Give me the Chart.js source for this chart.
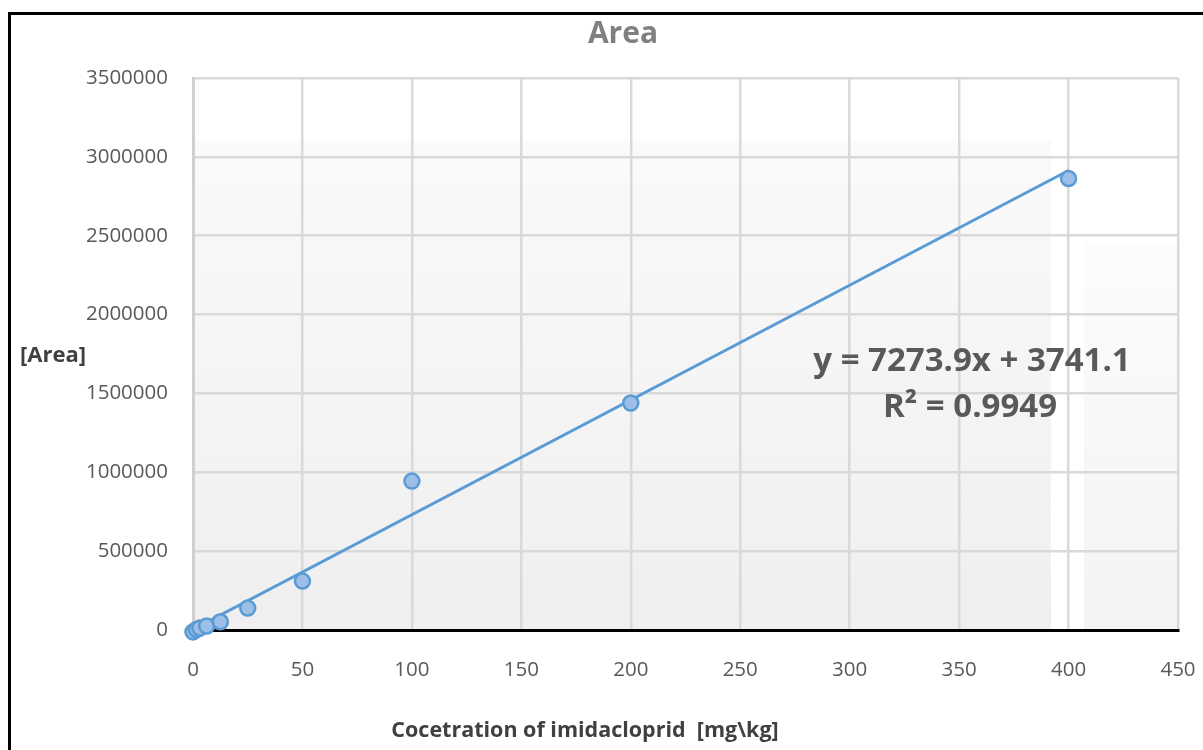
<!DOCTYPE html>
<html>
<head>
<meta charset="utf-8">
<script src="https://cdn.jsdelivr.net/npm/chart.js@4.4.1/dist/chart.umd.min.js"></script>
<style>
  html, body { margin: 0; padding: 0; background: #fff; }
  #wrap { width: 1203px; height: 750px; position: relative; }
</style>
</head>
<body>
<div id="wrap"><canvas id="myChart" width="1203" height="750"></canvas></div>
<script>
// calibration points
const concentrations = [0, 1.5625, 3.125, 6.25, 12.5, 25, 50, 100, 200, 400];
const areas = [-12000, 3000, 12000, 25000, 52000, 139000, 310000, 944000, 1439000, 2862000];

// linear trendline as printed on the chart
const slope = 7273.9;
const intercept = 3741.1;
const rSquared = 0.9949;
const trendRange = [0, 400];

const xTicks = [0, 50, 100, 150, 200, 250, 300, 350, 400, 450];
const yTicks = [0, 500000, 1000000, 1500000, 2000000, 2500000, 3000000, 3500000];

const font = "'Open Sans', 'Noto Sans', sans-serif";

const points = concentrations.map(function (c, i) {
  return { x: c, y: areas[i] };
});
const trend = trendRange.map(function (x) {
  return { x: x, y: slope * x + intercept };
});

// faint textured background, drawn before the grid
const bgShade = {
  id: "bgShade",
  beforeDraw: function (chart) {
    const ctx = chart.ctx;
    const xs = chart.scales.x;
    const ys = chart.scales.y;
    ctx.save();
    function band(x0, x1, yTop, c1, c2) {
      const l = xs.getPixelForValue(x0), r = xs.getPixelForValue(x1);
      const t = ys.getPixelForValue(yTop), b = ys.getPixelForValue(0);
      const g = ctx.createLinearGradient(0, b, 0, t);
      g.addColorStop(0, c1);
      g.addColorStop(1, c2);
      ctx.fillStyle = g;
      ctx.fillRect(l, t, r - l, b - t);
    }
    band(0, 392, 3100000, "#efefef", "#fafafa");
    band(407, 450, 2450000, "#f3f3f3", "#fcfcfc");
    ctx.restore();
  },
};

// frame, titles and equation text
const labels = {
  id: "labels",
  afterDraw: function (chart) {
    const ctx = chart.ctx;
    ctx.save();
    ctx.strokeStyle = "#000";
    ctx.lineWidth = 3;
    ctx.strokeRect(9.5, 13.5, 1220, 760);

    ctx.textAlign = "center";
    ctx.textBaseline = "middle";
    ctx.fillStyle = "#808080";
    ctx.font = "bold 30px " + font;
    ctx.fillText("Area", 623, 34);

    ctx.fillStyle = "#404040";
    ctx.font = "bold 21.5px " + font;
    ctx.fillText("Cocetration of imidacloprid  [mg\\kg]", 585, 731);
    ctx.textAlign = "left";
    ctx.font = "bold 22px " + font;
    ctx.fillText("[Area]", 20, 356);

    ctx.textAlign = "center";
    ctx.fillStyle = "#595959";
    ctx.font = "bold 33px " + font;
    ctx.fillText("y = " + slope + "x + " + intercept, 972, 362);
    ctx.fillText("R\u00b2 = " + rSquared, 970, 408);
    ctx.restore();
  },
};

new Chart(document.getElementById("myChart"), {
  type: "scatter",
  data: {
    datasets: [
      {
        label: "Trend",
        type: "line",
        data: trend,
        borderColor: "#5b9bd5",
        borderWidth: 3,
        pointRadius: 0,
        fill: false,
        order: 2,
      },
      {
        label: "Area",
        data: points,
        backgroundColor: "#9dbfe6",
        borderColor: "#5b9bd5",
        borderWidth: 2.5,
        pointRadius: 7.5,
        clip: false,
        order: 1,
      },
    ],
  },
  options: {
    responsive: false,
    animation: false,
    layout: { padding: { top: 78, right: 0, left: 0, bottom: 0 } },
    plugins: {
      legend: { display: false },
      tooltip: { enabled: false },
      title: { display: false },
    },
    scales: {
      x: {
        type: "linear",
        min: 0,
        max: 450,
        afterBuildTicks: function (s) {
          s.ticks = xTicks.map(function (v) { return { value: v }; });
        },
        afterFit: function (s) {
          s.height = 120;
          s.paddingLeft = 0;
          s.paddingRight = 25;
        },
        grid: { color: "#d9d9d9", lineWidth: 2.5, drawTicks: false },
        border: { color: "#000", width: 3 },
        ticks: {
          padding: 28,
          color: "#595959",
          font: { family: font, size: 20.5 },
          maxRotation: 0,
        },
      },
      y: {
        type: "linear",
        min: 0,
        max: 3500000,
        afterBuildTicks: function (s) {
          s.ticks = yTicks.map(function (v) { return { value: v }; });
        },
        afterFit: function (s) { s.width = 193; },
        grid: { color: "#d9d9d9", lineWidth: 2.5, drawTicks: false },
        border: { color: "#d0d0d0", width: 3 },
        ticks: {
          padding: 25,
          color: "#595959",
          font: { family: font, size: 20.5 },
          callback: function (v) { return String(v); },
        },
      },
    },
  },
  plugins: [bgShade, labels],
});
</script>
</body>
</html>
